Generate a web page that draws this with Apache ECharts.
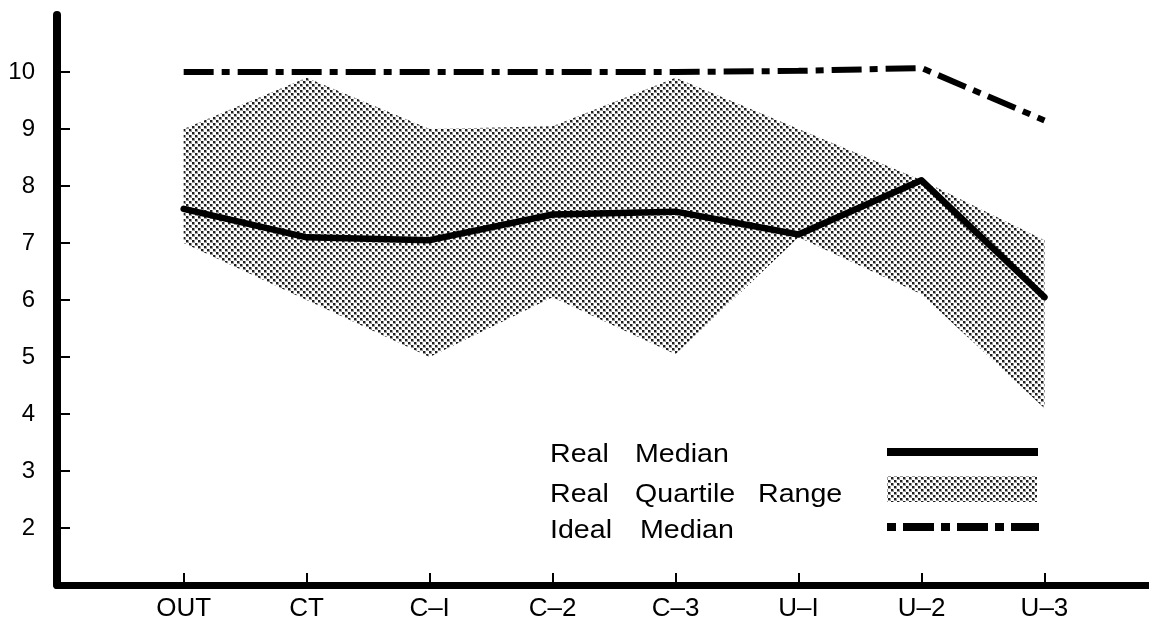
<!DOCTYPE html>
<html><head><meta charset="utf-8">
<script src="https://cdn.jsdelivr.net/npm/echarts@6/dist/echarts.min.js"></script>
<style>html,body{margin:0;padding:0;background:#fff}#c{width:1149px;height:626px}</style>
</head><body><div id="c"></div>
<script>
// ---- data ----
const categories = ['OUT', 'CT', 'C–I', 'C–2', 'C–3', 'U–I', 'U–2', 'U–3'];
const realMedian = [7.6, 7.1, 7.05, 7.5, 7.55, 7.15, 8.1, 6.05];
const quartileUpper = [9.0, 9.9, 9.0, 9.05, 9.9, 9.0, 8.1, 7.05];
const quartileLower = [7.0, 6.0, 5.0, 6.05, 5.05, 7.1, 6.1, 4.1];
const idealMedian = [10, 10, 10, 10, 10, 10.02, 10.07, 9.15];
const yTickValues = [2, 3, 4, 5, 6, 7, 8, 9, 10];
const legendLines = [['Real', 'Median'], ['Real', 'Quartile', 'Range'], ['Ideal', 'Median']];

// ---- helpers ----
const FONT = '"Liberation Sans", Arial, Helvetica, sans-serif';
function stipple() {
  const c = document.createElement('canvas');
  c.width = 6; c.height = 6;
  const g = c.getContext('2d');
  g.fillStyle = '#ffffff'; g.fillRect(0, 0, 6, 6);
  g.fillStyle = '#9a9a9a';
  g.fillRect(0, 0, 3, 3); g.fillRect(3, 3, 3, 3);
  g.fillStyle = '#1e1e1e';
  g.fillRect(0, 0, 2, 2); g.fillRect(3, 3, 2, 2);
  return c;
}
const pattern = { image: stipple(), repeat: 'repeat' };
const xIdx = categories.map((_, i) => i);

const chart = echarts.init(document.getElementById('c'), null, { renderer: 'canvas' });

const wordX = [[550, 635], [550, 635, 758], [550, 640]];
const lineY = [455, 495, 531];
const graphics = [];
legendLines.forEach((words, r) => {
  words.forEach((w, k) => {
    graphics.push({
      type: 'text', x: wordX[r][k], y: lineY[r], scaleX: 1.1,
      style: { text: w, fill: '#000', font: '26px ' + FONT, textAlign: 'left', textVerticalAlign: 'middle', verticalAlign: 'middle' }
    });
  });
});
graphics.push({ type: 'line', shape: { x1: 887, y1: 452, x2: 1038, y2: 452 }, style: { stroke: '#000', lineWidth: 8 } });
graphics.push({ type: 'rect', shape: { x: 887, y: 476, width: 150, height: 26 }, style: { fill: pattern } });
graphics.push({ type: 'line', shape: { x1: 887, y1: 527, x2: 1039, y2: 527 }, style: { stroke: '#000', lineWidth: 8, lineDash: [9, 7, 31, 7] } });

const option = {
  backgroundColor: '#fff',
  animation: false,
  grid: { left: 57, right: 0, top: 15, bottom: 41, containLabel: false },
  xAxis: {
    type: 'value', min: -1.03, max: 7.85,
    axisLine: { show: true, onZero: false, lineStyle: { color: '#000', width: 7, cap: 'round' } },
    axisTick: { show: true, inside: true, length: 12, customValues: xIdx, lineStyle: { color: '#000', width: 2 } },
    axisLabel: {
      customValues: xIdx, formatter: v => categories[Math.round(v)] || '',
      color: '#000', fontSize: 26, fontFamily: FONT, margin: 11
    },
    splitLine: { show: false }
  },
  yAxis: {
    type: 'value', min: 1, max: 11,
    axisLine: { show: true, onZero: false, lineStyle: { color: '#000', width: 8, cap: 'round' } },
    axisTick: { show: true, inside: true, length: 13, customValues: yTickValues, lineStyle: { color: '#000', width: 2 } },
    axisLabel: { customValues: yTickValues, color: '#000', fontSize: 24, fontFamily: FONT, margin: 22 },
    splitLine: { show: false }
  },
  graphic: graphics,
  series: [
    {
      type: 'custom', z: 1,
      data: quartileLower.map((lo, i) => [i, lo, quartileUpper[i]]),
      encode: { x: 0, y: [1, 2] },
      renderItem: function (params, api) {
        if (params.dataIndex !== 0) return null;
        const pts = [];
        for (let i = 0; i < quartileUpper.length; i++) pts.push(api.coord([i, quartileUpper[i]]));
        for (let i = quartileLower.length - 1; i >= 0; i--) pts.push(api.coord([i, quartileLower[i]]));
        return { type: 'polygon', shape: { points: pts }, style: { fill: pattern, stroke: null } };
      }
    },
    {
      type: 'line', z: 3, symbol: 'none',
      data: realMedian.map((v, i) => [i, v]),
      lineStyle: { color: '#000', width: 6.5, join: 'round', cap: 'round' }
    },
    {
      type: 'line', z: 3, symbol: 'none',
      data: idealMedian.map((v, i) => [i, v]),
      lineStyle: { color: '#000', width: 6, type: [30, 8, 8, 8], cap: 'butt' }
    }
  ]
};
chart.setOption(option);
</script>
</body></html>
